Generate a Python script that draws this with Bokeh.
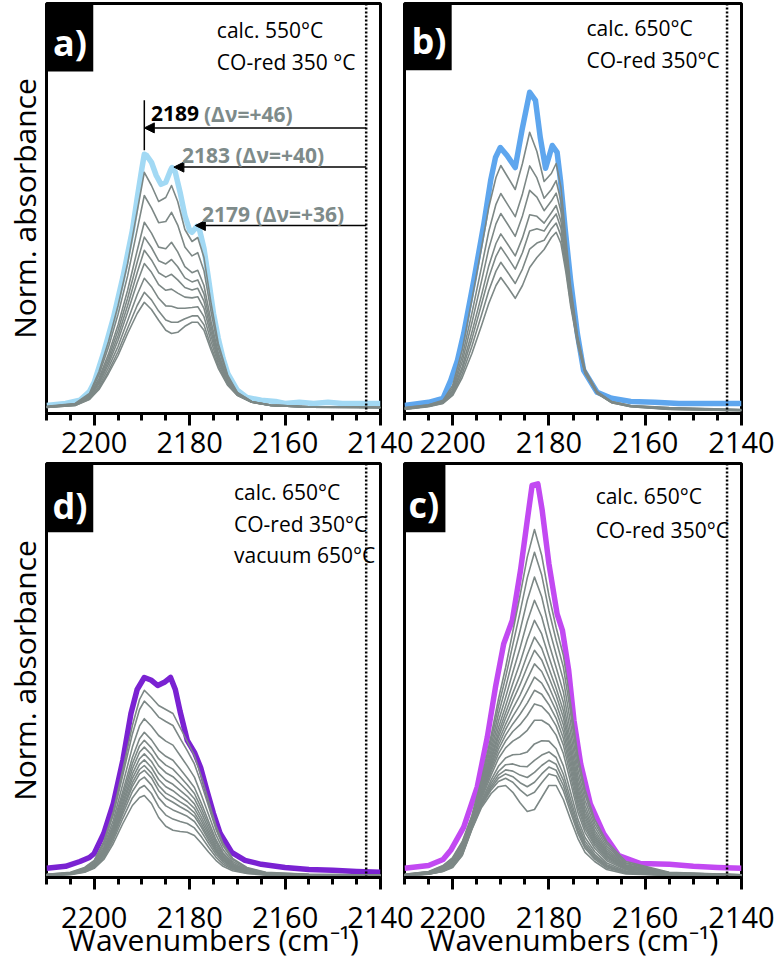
from bokeh.plotting import figure
from bokeh.layouts import row, column
from bokeh.models import (Range1d, SingleIntervalTicker, FixedTicker, Span, Arrow,
                          NormalHead, Label, BoxAnnotation)
from bokeh.embed import file_html
from bokeh.resources import INLINE

FONT = "Open Sans"
GRAY = "#7d8886"
GRAY_TXT = "#7e8b8a"

# ---------------- panel a) calc. 550 C ----------------
A_X = [2210, 2206, 2203, 2201, 2200, 2198, 2196, 2194, 2192, 2191, 2190, 2189.5, 2189, 2188, 2187,
       2186, 2185, 2184, 2183.7, 2183, 2182, 2181, 2180, 2179.5, 2179, 2178.5, 2178, 2177, 2176, 2175,
       2174, 2173, 2172, 2170, 2168, 2165, 2162, 2160, 2157, 2154, 2151, 2148, 2145, 2142, 2140]
A_TOP = [0.5, 1.0, 1.8, 4.0, 6.3, 13.8, 22.3, 32.5, 44.3, 52.3, 59.8, 63.3, 63.0, 61.3, 58.0,
         55.8, 56.3, 59.3, 60.0, 58.8, 53.8, 48.0, 44.3, 43.8, 44.5, 45.3, 44.8, 39.8, 31.8, 23.5,
         17.3, 12.3, 8.5, 4.3, 2.5, 1.8, 1.5, 1.0, 1.3, 1.0, 1.3, 1.0, 1.0, 1.0, 1.0]
A_GX = [2210, 2204, 2201, 2199, 2197, 2195, 2193, 2191, 2189.5, 2188, 2186.5, 2185, 2183.8, 2182.5,
        2181, 2179.5, 2178.3, 2177, 2175.5, 2174, 2172, 2170, 2167, 2163, 2155, 2140]
A_GRAY = [
    [0.3, 1.0, 3.5, 9.0, 16.5, 25.5, 36.0, 49.0, 58.8, 55.5, 51.5, 52.5, 55.5, 51.5, 44.5, 41.5, 42.5, 37.5, 26.0, 16.0, 8.0, 3.8, 1.5, 0.6, 0.2, 0.0],
    [0.2, 0.9, 3.2, 8.2, 15.1, 23.3, 32.9, 44.4, 53.0, 49.9, 46.2, 46.5, 48.8, 45.6, 40.1, 37.9, 38.7, 34.2, 23.9, 14.9, 7.6, 3.7, 1.5, 0.6, 0.2, 0.0],
    [0.2, 0.8, 2.9, 7.3, 13.4, 20.7, 29.3, 39.2, 46.3, 43.6, 40.1, 39.7, 41.3, 38.9, 35.2, 33.7, 34.3, 30.5, 21.5, 13.6, 7.0, 3.5, 1.4, 0.6, 0.2, 0.0],
    [0.2, 0.8, 2.8, 6.8, 12.5, 19.3, 27.3, 36.3, 42.6, 40.0, 36.7, 35.9, 37.0, 35.2, 32.4, 31.4, 31.9, 28.4, 20.2, 12.9, 6.8, 3.4, 1.4, 0.6, 0.2, 0.0],
    [0.1, 0.7, 2.6, 6.3, 11.7, 18.0, 25.5, 33.7, 39.3, 36.9, 33.7, 32.6, 33.3, 31.9, 30.0, 29.4, 29.8, 26.6, 19.0, 12.3, 6.5, 3.3, 1.4, 0.5, 0.1, 0.0],
    [0.1, 0.7, 2.5, 5.9, 10.9, 16.8, 23.8, 31.2, 36.0, 33.8, 30.7, 29.3, 29.6, 28.6, 27.6, 27.4, 27.7, 24.8, 17.8, 11.7, 6.3, 3.2, 1.4, 0.5, 0.1, 0.0],
    [0.1, 0.6, 2.3, 5.3, 10.0, 15.3, 21.7, 28.2, 32.3, 30.2, 27.3, 25.4, 25.3, 24.8, 24.8, 25.0, 25.2, 22.7, 16.5, 11.0, 6.0, 3.1, 1.3, 0.5, 0.1, 0.0],
    [0.0, 0.5, 2.1, 4.8, 9.1, 14.0, 19.8, 25.5, 28.8, 26.9, 24.1, 21.9, 21.3, 21.3, 22.2, 22.9, 22.9, 20.7, 15.2, 10.3, 5.7, 3.1, 1.3, 0.5, 0.1, 0.0],
    [0.0, 0.5, 2.0, 4.5, 8.5, 13.0, 18.5, 23.5, 26.3, 24.5, 21.8, 19.3, 18.5, 18.8, 20.3, 21.3, 21.3, 19.3, 14.3, 9.8, 5.5, 3.0, 1.3, 0.5, 0.1, 0.0],
]

# ---------------- panel b) calc. 650 C ----------------
B_X = [2210, 2205, 2202, 2200.4, 2199, 2197.7, 2195.6, 2193.5, 2192.1, 2191.1, 2190.1, 2188.7, 2187,
       2185.6, 2184, 2182.8, 2181.8, 2180.7, 2179.3, 2178.3, 2177.6, 2176.6, 2175.5, 2174.1, 2172.8,
       2170, 2167, 2163, 2158, 2153, 2148, 2143, 2140]
B_TOP = [0.5, 1.3, 2.3, 6.8, 11.8, 18.5, 31.8, 46.0, 56.8, 62.5, 65.0, 63.0, 60.0,
         69.3, 78.8, 76.8, 67.5, 59.8, 65.5, 63.8, 56.8, 44.3, 31.8, 18.5, 9.3,
         3.8, 2.3, 1.5, 1.3, 1.0, 1.0, 1.0, 1.0]
B_GX = [2210, 2205, 2202, 2200, 2198, 2196, 2194, 2192.5, 2191, 2190, 2188.5, 2187, 2185.5, 2184,
        2182.5, 2181, 2179.5, 2178.5, 2177.5, 2176.5, 2175.5, 2174, 2172.5, 2170, 2167, 2163, 2155, 2140]
B_GRAY = [
    [0.0, 0.7, 1.8, 5.5, 14.5, 27.0, 40.0, 50.0, 57.5, 60.5, 57.5, 54.5, 61.0, 68.8, 64.0, 56.5, 58.5, 61.0, 55.0, 42.5, 30.5, 17.5, 9.5, 4.0, 1.5, 0.5, 0.0, -0.5],
    [-0.1, 0.6, 1.6, 4.9, 12.8, 23.6, 35.1, 44.0, 50.8, 53.5, 50.6, 47.7, 53.4, 60.4, 57.4, 52.3, 54.5, 56.7, 51.5, 40.4, 29.3, 17.0, 9.3, 3.9, 1.4, 0.4, -0.1, -0.6],
    [-0.2, 0.5, 1.5, 4.4, 11.5, 21.2, 31.6, 39.7, 45.9, 48.5, 45.7, 42.8, 47.9, 54.3, 52.6, 49.2, 51.6, 53.6, 49.0, 38.8, 28.4, 16.6, 9.1, 3.8, 1.4, 0.4, -0.2, -0.6],
    [-0.3, 0.4, 1.3, 4.0, 10.2, 18.8, 28.1, 35.4, 41.0, 43.4, 40.7, 37.9, 42.4, 48.2, 47.8, 46.1, 48.7, 50.5, 46.5, 37.3, 27.5, 16.3, 8.9, 3.7, 1.3, 0.3, -0.3, -0.7],
    [-0.4, 0.3, 1.2, 3.7, 9.4, 17.1, 25.8, 32.5, 37.8, 40.1, 37.4, 34.6, 38.7, 44.1, 44.7, 44.1, 46.8, 48.4, 44.8, 36.3, 26.9, 16.0, 8.8, 3.6, 1.3, 0.3, -0.4, -0.7],
    [-0.4, 0.3, 1.1, 3.3, 8.4, 15.3, 23.1, 29.2, 34.1, 36.3, 33.7, 31.0, 34.6, 39.6, 41.1, 41.8, 44.7, 46.1, 42.9, 35.1, 26.2, 15.8, 8.6, 3.6, 1.2, 0.2, -0.4, -0.8],
    [-0.5, 0.2, 1.0, 3.0, 7.5, 13.5, 20.5, 26.0, 30.5, 32.5, 30.0, 27.3, 30.5, 35.0, 37.5, 39.5, 42.5, 43.8, 41.0, 34.0, 25.5, 15.5, 8.5, 3.5, 1.2, 0.2, -0.5, -0.8],
]

# ---------------- panel d) vacuum 650 C ----------------
D_X = [2210, 2206, 2203, 2201, 2200, 2198, 2196, 2194, 2192.3, 2191, 2189.5, 2188, 2186.7, 2185.3,
       2184, 2183, 2182, 2180.5, 2179, 2177.7, 2176.4, 2175, 2173.6, 2171.2, 2168.4, 2165, 2160,
       2155, 2150, 2145, 2140]
D_TOP = [1.8, 2.3, 3.5, 4.5, 5.5, 10.5, 18.0, 28.8, 40.5, 46.5, 49.5, 48.8, 47.5, 48.3,
         49.5, 46.5, 41.0, 33.8, 30.8, 27.0, 21.3, 15.5, 10.5, 5.8, 3.8, 2.8, 2.0,
         1.5, 1.3, 1.0, 0.8]
D_GX = [2210, 2205, 2202, 2200, 2198, 2196, 2194, 2192, 2190.5, 2189.5, 2188, 2186.5, 2185, 2183.5,
        2182, 2180.5, 2179, 2177.5, 2176, 2174.5, 2173, 2171, 2168, 2164, 2155, 2140]
D_GRAY = [
    [0.3, 0.8, 2.0, 3.8, 8.5, 16.0, 26.5, 37.5, 44.0, 46.3, 44.5, 42.5, 41.5, 40.5, 37.0, 33.5, 30.0, 24.5, 18.5, 12.5, 8.0, 4.3, 2.0, 0.8, 0.3, 0.1],
    [0.3, 0.7, 1.9, 3.6, 8.0, 15.2, 25.1, 35.4, 41.5, 43.6, 41.8, 39.6, 38.5, 37.5, 34.3, 31.2, 27.9, 22.8, 17.2, 11.6, 7.4, 4.0, 1.8, 0.7, 0.3, 0.1],
    [0.2, 0.6, 1.7, 3.3, 7.3, 13.8, 22.9, 32.1, 37.4, 39.2, 37.3, 35.0, 33.6, 32.6, 30.0, 27.4, 24.6, 20.0, 15.1, 10.2, 6.5, 3.5, 1.6, 0.6, 0.2, 0.1],
    [0.2, 0.6, 1.5, 3.0, 6.7, 12.8, 21.1, 29.5, 34.2, 35.8, 33.9, 31.3, 29.8, 28.8, 26.6, 24.4, 22.0, 17.9, 13.4, 9.0, 5.7, 3.1, 1.4, 0.5, 0.2, 0.1],
    [0.2, 0.5, 1.4, 2.9, 6.4, 12.2, 20.1, 28.0, 32.4, 33.8, 31.9, 29.2, 27.6, 26.6, 24.7, 22.7, 20.5, 16.7, 12.5, 8.4, 5.3, 2.8, 1.3, 0.5, 0.2, 0.1],
    [0.1, 0.5, 1.4, 2.7, 6.1, 11.7, 19.2, 26.7, 30.8, 32.1, 30.2, 27.4, 25.7, 24.7, 23.0, 21.2, 19.2, 15.6, 11.6, 7.8, 4.9, 2.6, 1.2, 0.4, 0.1, 0.0],
    [0.1, 0.4, 1.3, 2.6, 5.8, 11.2, 18.3, 25.4, 29.2, 30.4, 28.5, 25.6, 23.8, 22.8, 21.3, 19.8, 17.9, 14.5, 10.8, 7.2, 4.6, 2.4, 1.1, 0.4, 0.1, 0.0],
    [0.1, 0.4, 1.2, 2.5, 5.5, 10.7, 17.6, 24.3, 27.8, 28.9, 27.0, 24.0, 22.2, 21.2, 19.8, 18.5, 16.8, 13.6, 10.1, 6.7, 4.2, 2.2, 1.0, 0.3, 0.1, 0.0],
    [0.1, 0.4, 1.1, 2.4, 5.3, 10.3, 16.8, 23.2, 26.5, 27.5, 25.6, 22.5, 20.6, 19.6, 18.4, 17.3, 15.7, 12.7, 9.4, 6.3, 3.9, 2.1, 0.9, 0.3, 0.1, 0.0],
    [0.1, 0.3, 1.1, 2.3, 5.1, 9.9, 16.2, 22.3, 25.4, 26.3, 24.4, 21.2, 19.3, 18.3, 17.2, 16.2, 14.8, 12.0, 8.8, 5.9, 3.7, 1.9, 0.9, 0.3, 0.1, 0.0],
    [0.1, 0.3, 1.0, 2.2, 4.8, 9.4, 15.4, 21.0, 23.8, 24.6, 22.6, 19.4, 17.4, 16.4, 15.6, 14.8, 13.5, 10.9, 8.0, 5.3, 3.3, 1.7, 0.8, 0.2, 0.1, 0.0],
    [0.0, 0.3, 0.9, 2.0, 4.4, 8.8, 14.3, 19.4, 21.8, 22.5, 20.5, 17.2, 15.1, 14.1, 13.5, 13.0, 11.9, 9.6, 7.0, 4.6, 2.8, 1.5, 0.6, 0.2, 0.0, 0.0],
    [0.0, 0.2, 0.8, 1.8, 4.0, 8.0, 13.0, 17.5, 19.5, 20.0, 18.0, 14.5, 12.3, 11.3, 11.0, 10.8, 10.0, 8.0, 5.8, 3.8, 2.3, 1.2, 0.5, 0.1, 0.0, 0.0],
]

# ---------------- panel c) calc. 650 C ----------------
C_X = [2210, 2205, 2202, 2200.4, 2197.7, 2194.9, 2192.8, 2191.1, 2189.4, 2187.6, 2185.9, 2184.5,
       2183.5, 2182.3, 2181.4, 2180, 2178.3, 2177.2, 2175.9, 2174.8, 2173.4, 2171.4, 2168.6, 2165.5,
       2161, 2155, 2150, 2145, 2140]
C_TOP = [1.8, 2.5, 4.0, 6.3, 12.1, 22.1, 34.6, 47.1, 57.9, 63.8, 76.3, 88.8,
         97.5, 97.9, 91.3, 77.9, 65.4, 61.3, 51.3, 38.8, 27.9, 17.9, 10.4, 5.0,
         3.0, 2.8, 2.3, 2.0, 1.8]
C_GX = [2210, 2205, 2202, 2200, 2198, 2196, 2194, 2192, 2190.5, 2189, 2187.5, 2186, 2184.5, 2183,
        2181.5, 2180, 2178.5, 2177, 2175.5, 2174, 2172.5, 2170.5, 2168, 2164, 2155, 2140]
C_GRAY = [
    [0.3, 1.0, 2.5, 4.5, 8.5, 15.0, 24.0, 35.0, 44.0, 52.0, 61.0, 70.0, 79.6, 86.5, 80.0, 70.0, 62.0, 55.0, 43.0, 30.0, 21.5, 14.0, 8.5, 3.5, 0.8, 0.2],
    [0.3, 0.9, 2.4, 4.3, 8.2, 14.7, 23.4, 33.8, 42.2, 49.6, 57.7, 65.8, 74.4, 80.8, 75.1, 66.2, 58.8, 52.1, 40.7, 28.3, 20.2, 13.1, 7.9, 3.2, 0.7, 0.2],
    [0.2, 0.9, 2.2, 4.1, 7.9, 14.4, 22.8, 32.5, 40.3, 47.0, 54.2, 61.2, 68.8, 74.6, 69.7, 61.9, 55.3, 48.9, 38.1, 26.5, 18.8, 12.2, 7.3, 3.0, 0.7, 0.2],
    [0.2, 0.8, 2.1, 3.9, 7.6, 14.1, 22.2, 31.3, 38.5, 44.5, 50.8, 56.9, 63.5, 68.8, 64.7, 58.0, 52.0, 45.9, 35.7, 24.8, 17.5, 11.3, 6.7, 2.7, 0.6, 0.1],
    [0.2, 0.8, 2.0, 3.7, 7.4, 13.9, 21.7, 30.3, 36.9, 42.4, 48.0, 53.2, 59.0, 63.8, 60.4, 54.6, 49.2, 43.3, 33.6, 23.3, 16.4, 10.6, 6.2, 2.5, 0.5, 0.1],
    [0.2, 0.7, 1.9, 3.5, 7.2, 13.7, 21.3, 29.4, 35.6, 40.7, 45.6, 50.1, 55.2, 59.6, 56.8, 51.8, 46.8, 41.2, 31.9, 22.1, 15.5, 10.0, 5.8, 2.3, 0.5, 0.1],
    [0.2, 0.7, 1.9, 3.4, 7.0, 13.5, 21.0, 28.8, 34.6, 39.3, 43.7, 47.7, 52.2, 56.3, 53.9, 49.5, 45.0, 39.5, 30.5, 21.1, 14.7, 9.5, 5.5, 2.2, 0.5, 0.1],
    [0.2, 0.7, 1.8, 3.3, 6.8, 13.3, 20.6, 28.0, 33.5, 37.8, 41.7, 45.1, 49.1, 52.9, 51.0, 47.2, 43.0, 37.7, 29.1, 20.1, 14.0, 9.0, 5.1, 2.0, 0.4, 0.1],
    [0.1, 0.6, 1.7, 3.2, 6.7, 13.2, 20.3, 27.4, 32.5, 36.5, 39.8, 42.7, 46.1, 49.6, 48.1, 45.0, 41.2, 36.0, 27.7, 19.1, 13.2, 8.5, 4.8, 1.9, 0.4, 0.1],
    [0.1, 0.6, 1.6, 3.1, 6.5, 13.0, 20.0, 26.7, 31.5, 35.1, 37.9, 40.3, 43.1, 46.3, 45.3, 42.7, 39.3, 34.3, 26.4, 18.1, 12.5, 8.0, 4.5, 1.7, 0.3, 0.1],
    [0.1, 0.6, 1.6, 2.9, 6.3, 12.8, 19.6, 26.0, 30.4, 33.6, 36.0, 37.7, 40.0, 42.9, 42.3, 40.4, 37.4, 32.6, 24.9, 17.1, 11.7, 7.5, 4.1, 1.6, 0.3, 0.1],
    [0.1, 0.5, 1.5, 2.8, 6.1, 12.6, 19.2, 25.1, 29.2, 31.9, 33.6, 34.7, 36.3, 38.8, 38.8, 37.7, 35.1, 30.5, 23.3, 15.9, 10.8, 6.8, 3.7, 1.4, 0.3, 0.1],
    [0.1, 0.5, 1.4, 2.6, 5.8, 12.3, 18.6, 23.9, 27.3, 29.4, 30.2, 30.3, 30.9, 32.9, 33.7, 33.6, 31.7, 27.4, 20.8, 14.1, 9.5, 6.0, 3.1, 1.1, 0.2, 0.0],
    [0.1, 0.4, 1.3, 2.4, 5.6, 12.1, 18.2, 23.1, 26.0, 27.7, 27.9, 27.3, 27.2, 28.8, 30.1, 30.9, 29.5, 25.3, 19.1, 12.9, 8.6, 5.3, 2.7, 0.9, 0.1, 0.0],
    [0.0, 0.4, 1.2, 2.3, 5.5, 12.0, 17.9, 22.4, 25.1, 26.4, 26.1, 25.1, 24.5, 25.8, 27.5, 28.8, 27.8, 23.8, 17.9, 12.1, 7.9, 4.9, 2.4, 0.8, 0.1, 0.0],
    [0.0, 0.4, 1.1, 2.2, 5.3, 11.8, 17.7, 21.9, 24.3, 25.4, 24.7, 23.2, 22.2, 23.3, 25.4, 27.1, 26.3, 22.5, 16.8, 11.3, 7.3, 4.5, 2.2, 0.7, 0.1, 0.0],
    [0.0, 0.3, 1.1, 2.2, 5.2, 11.7, 17.4, 21.4, 23.5, 24.3, 23.3, 21.4, 19.9, 20.8, 23.2, 25.4, 24.9, 21.2, 15.8, 10.6, 6.8, 4.1, 1.9, 0.6, 0.0, 0.0],
    [0.0, 0.3, 1.0, 2.0, 5.0, 11.5, 17.0, 20.5, 22.2, 22.5, 20.8, 18.2, 16.0, 16.5, 19.5, 22.5, 22.5, 19.0, 14.0, 9.3, 5.8, 3.5, 1.5, 0.4, 0.0, 0.0],
]

# ---------------- annotations ----------------
CO_GAS = 2143  # gas-phase CO reference (dotted line)
A_ARROW_END = [2189.5, 2183.3, 2178.8]
A_ARROW_Y = [69.9, 60.1, 45.5]
A_PEAK_TICK = [2189.5, 64.3, 76.8]  # x, y0, y1

COLORS = {"a": "#a2d9f4", "b": "#5ea6ee", "d": "#7a22d2", "c": "#c249f2"}


def make_panel(width, height, ystart, yend, mb_left, mb_right, mb_top, mb_bottom,
               label_standoff, ylabel=None, xlabel=None, title_standoff=0):
    p = figure(width=width, height=height,
               x_range=Range1d(2210, 2140), y_range=Range1d(ystart, yend),
               output_backend="svg", toolbar_location=None,
               min_border_left=mb_left, min_border_right=mb_right,
               min_border_top=mb_top, min_border_bottom=mb_bottom)
    p.grid.visible = False
    p.outline_line_color = "black"
    p.outline_line_width = 3
    p.outline_line_alpha = 1
    p.border_fill_color = None
    xa = p.xaxis[0]
    xa.ticker = SingleIntervalTicker(interval=20, num_minor_ticks=4)
    xa.axis_line_width = 3
    xa.major_tick_line_width = 3
    xa.minor_tick_line_width = 3
    xa.major_tick_out = 12
    xa.major_tick_in = 0
    xa.minor_tick_out = 7
    xa.minor_tick_in = 0
    xa.major_label_text_font = FONT
    xa.major_label_text_font_size = "29px"
    xa.major_label_text_color = "black"
    xa.major_label_standoff = label_standoff
    if xlabel:
        xa.axis_label = xlabel
        xa.axis_label_text_font = FONT
        xa.axis_label_text_font_size = "30px"
        xa.axis_label_text_font_style = "normal"
        xa.axis_label_text_color = "black"
        xa.axis_label_standoff = title_standoff
    ya = p.yaxis[0]
    if ylabel:
        ya.ticker = FixedTicker(ticks=[])
        ya.axis_line_color = None
        ya.major_tick_line_color = None
        ya.minor_tick_line_color = None
        ya.axis_label = ylabel
        ya.axis_label_text_font = FONT
        ya.axis_label_text_font_size = "30px"
        ya.axis_label_text_font_style = "normal"
        ya.axis_label_text_color = "black"
        ya.axis_label_standoff = 2
    else:
        ya.visible = False
    return p


def decorate(p, letter, box_right, box_bottom, letter_x, letter_y, yend, texts, text_x, text_ys):
    p.add_layout(BoxAnnotation(left=2210, right=box_right, bottom=box_bottom, top=yend,
                               fill_color="black", fill_alpha=1.0, line_color=None))
    p.add_layout(Label(x=letter_x, y=letter_y, text=letter, text_color="white",
                       text_font=FONT, text_font_style="bold", text_font_size="36px",
                       text_align="center", text_baseline="middle"))
    for t, ty in zip(texts, text_ys):
        p.add_layout(Label(x=text_x, y=ty, text=t, text_color="black", text_font=FONT,
                           text_font_size="21px", text_align="left", text_baseline="middle"))
    p.add_layout(Span(location=CO_GAS, dimension="height", line_color="black",
                      line_width=2.5, line_dash="2 2"))


def draw_curves(p, x_top, y_top, color, gx, grays):
    p.line(x_top, y_top, line_color=color, line_width=5.5, line_join="round")
    for ys in grays:
        p.line(gx, ys, line_color=GRAY, line_width=1.6, line_join="round")


YA = (-1.5, 101)
YB = (-0.5, 103)
XT = "Wavenumbers (cm\u207b\u00b9)"

pa = make_panel(420, 475, YA[0], YA[1], 43, 40, 3, 62, 6, ylabel="Norm. absorbance")
pb = make_panel(384, 475, YA[0], YA[1], 12, 35, 3, 62, 6)
pd = make_panel(420, 512, YB[0], YB[1], 43, 40, 2, 96, 17, ylabel="Norm. absorbance",
                xlabel=XT, title_standoff=-12)
pc = make_panel(384, 512, YB[0], YB[1], 12, 35, 2, 96, 17, xlabel=XT, title_standoff=-12)

draw_curves(pa, A_X, A_TOP, COLORS["a"], A_GX, A_GRAY)
draw_curves(pb, B_X, B_TOP, COLORS["b"], B_GX, B_GRAY)
draw_curves(pd, D_X, D_TOP, COLORS["d"], D_GX, D_GRAY)
draw_curves(pc, C_X, C_TOP, COLORS["c"], C_GX, C_GRAY)

decorate(pa, "a)", 2200.2, 84.0, 2205.1, 91.3, YA[1], ["calc. 550\u00b0C", "CO-red 350 \u00b0C"],
         2174.3, [94.3, 86.3])
decorate(pb, "b)", 2200.2, 84.3, 2204.9, 91.8, YA[1], ["calc. 650\u00b0C", "CO-red 350\u00b0C"],
         2172.2, [94.8, 86.8])
decorate(pd, "d)", 2200.2, 85.8, 2205.1, 92.5, YB[1],
         ["calc. 650\u00b0C", "CO-red 350\u00b0C", "vacuum 650\u00b0C"], 2170.7, [95.8, 88.0, 80.2])
decorate(pc, "c)", 2201.5, 85.8, 2206.0, 92.8, YB[1], ["calc. 650\u00b0C", "CO-red 350\u00b0C"],
         2170.3, [95.0, 86.5])

# arrows and peak labels in panel a
for xe, ye in zip(A_ARROW_END, A_ARROW_Y):
    pa.add_layout(Arrow(end=NormalHead(size=10, fill_color="black", line_color="black"),
                        x_start=CO_GAS, y_start=ye, x_end=xe, y_end=ye,
                        line_color="black", line_width=1.5))
pa.segment(x0=[A_PEAK_TICK[0]], y0=[A_PEAK_TICK[1]], x1=[A_PEAK_TICK[0]], y1=[A_PEAK_TICK[2]],
           line_color="black", line_width=1.5)
pa.add_layout(Label(x=2188.1, y=73.5, text="2189", text_color="black", text_font=FONT,
                    text_font_style="bold", text_font_size="21px", text_baseline="middle"))
pa.add_layout(Label(x=2177.0, y=73.5, text="(\u0394\u03bd=+46)", text_color=GRAY_TXT,
                    text_font=FONT, text_font_style="bold", text_font_size="21px",
                    text_baseline="middle"))
pa.add_layout(Label(x=2181.6, y=63.1, text="2183 (\u0394\u03bd=+40)", text_color=GRAY_TXT,
                    text_font=FONT, text_font_style="bold", text_font_size="21px",
                    text_baseline="middle"))
pa.add_layout(Label(x=2177.4, y=48.5, text="2179 (\u0394\u03bd=+36)", text_color=GRAY_TXT,
                    text_font=FONT, text_font_style="bold", text_font_size="21px",
                    text_baseline="middle"))

pb.margin = (0, 0, 0, -28)
pc.margin = (0, 0, 0, -28)

bottom_row = row(pd, pc)
bottom_row.margin = (-14, 0, 0, 0)
layout = column(row(pa, pb), bottom_row)

open("out.html", "w").write(file_html(layout, INLINE))
